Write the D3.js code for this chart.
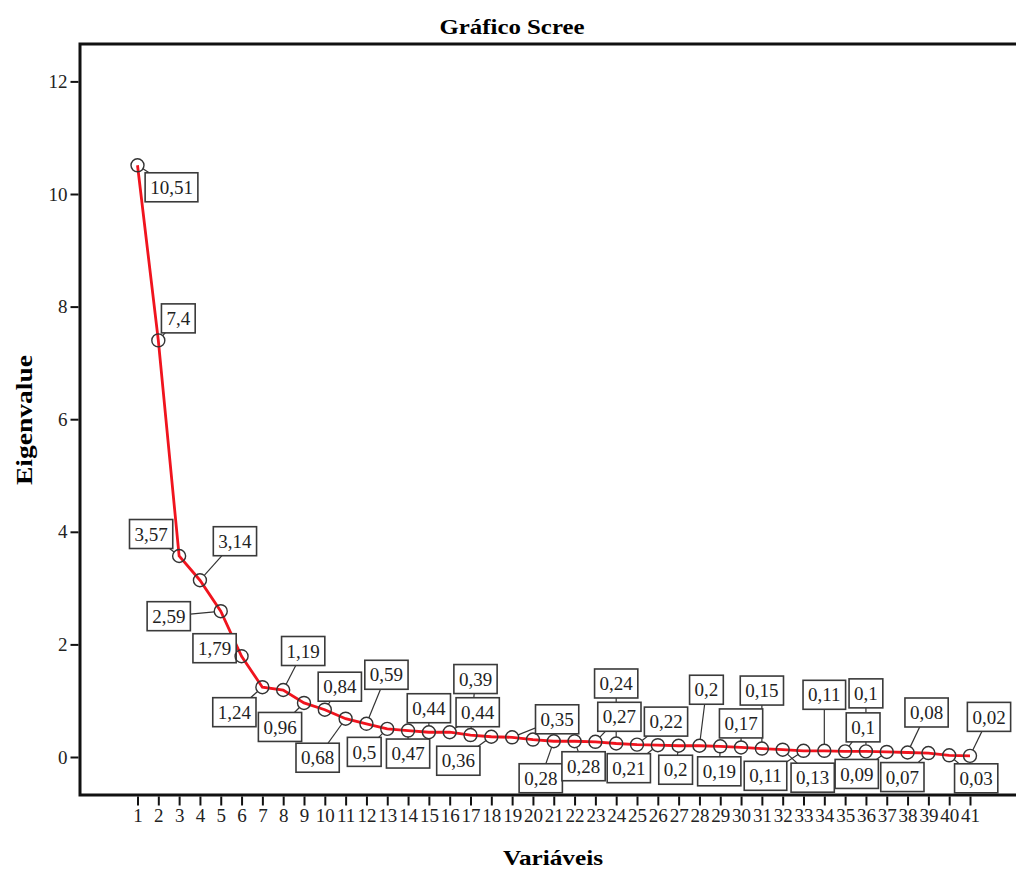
<!DOCTYPE html>
<html>
<head>
    <meta charset="utf-8">
    <title>Gráfico Scree</title>
    <script src="https://d3js.org/d3.v7.min.js"></script>
    <style>
        body { margin: 0; background: #fff; }
        svg { display: block; }
    </style>
</head>
<body>
    <svg id="chart"></svg>
    <script>
        // Data
        const variables = [1, 2, 3, 4, 5, 6, 7, 8, 9, 10, 11, 12, 13, 14, 15, 16, 17, 18, 19, 20,
            21, 22, 23, 24, 25, 26, 27, 28, 29, 30, 31, 32, 33, 34, 35, 36, 37, 38, 39, 40, 41];
        const eigenvalues = [10.51, 7.4, 3.57, 3.14, 2.59, 1.79, 1.24, 1.19, 0.96, 0.84,
            0.68, 0.59, 0.5, 0.47, 0.44, 0.44, 0.39, 0.36, 0.35, 0.31,
            0.28, 0.28, 0.27, 0.24, 0.22, 0.21, 0.2, 0.2, 0.19, 0.17,
            0.15, 0.13, 0.11, 0.11, 0.1, 0.1, 0.09, 0.08, 0.07, 0.03, 0.02];
        const yTicks = [0, 2, 4, 6, 8, 10, 12];

        // where each value box sits relative to its point (px), null = no box
        const labelOffsets = [
            [34, 22], [20, -22], [-28, -22], [35, -39], [-52, 5], [-27, -8], [-28, 25], [20, -39], [-24, 24], [15, -23],
            [-28, 39], [20, -49], [-23, 23], [0, 23], [0, -24], [28, -20], [5, -56], [-33, 24], [45, -18], null,
            [-13, 37], [9, 25], [24, -25], [0, -60], [29, -23], [-29, 23], [-3, 24], [7, -56], [-1, 25], [0, -24],
            [0, -58], [30, 28], [-38, 25], [0, -56], [18, -24], [0, -58], [-30, 22], [19, -40], [-26, 24], [27, 23],
            [19, -39]
        ];

        const width = 1016, height = 869;
        const frame = { left: 80, top: 44, bottom: 795 };
        const serif = "'Liberation Serif', 'DejaVu Serif', serif";

        const svg = d3.select("#chart").attr("width", width).attr("height", height);

        const x = d3.scaleLinear().domain([1, 41]).range([137.5, 970]);
        const y = d3.scaleLinear().domain([0, 12]).range([757, 81.4]);

        // frame (right side runs past the picture)
        svg.append("path")
            .attr("d", `M${width + 10},${frame.top}H${frame.left}V${frame.bottom}H${width + 10}`)
            .attr("fill", "none").attr("stroke", "#111").attr("stroke-width", 3);

        // y axis
        const yAxis = svg.append("g")
            .attr("transform", `translate(${frame.left - 1.5},0)`)
            .call(d3.axisLeft(y).tickValues(yTicks).tickSize(8).tickPadding(3));
        yAxis.select(".domain").remove();
        yAxis.selectAll("line").attr("stroke", "#111").attr("stroke-width", 2);
        yAxis.selectAll("text").attr("font-family", serif).attr("font-size", 19).attr("fill", "#222");

        // x axis
        const xAxis = svg.append("g")
            .attr("transform", `translate(0,${frame.bottom + 1.5})`)
            .call(d3.axisBottom(x).tickValues(variables).tickFormat(d3.format("d")).tickSize(9).tickPadding(3));
        xAxis.select(".domain").remove();
        xAxis.selectAll("line").attr("stroke", "#111").attr("stroke-width", 2);
        xAxis.selectAll("text").attr("font-family", serif).attr("font-size", 19).attr("fill", "#222");

        // titles
        svg.append("text").attr("x", 512).attr("y", 34).attr("text-anchor", "middle")
            .attr("font-family", serif).attr("font-weight", "bold").attr("font-size", 22)
            .attr("textLength", 145).attr("lengthAdjust", "spacingAndGlyphs")
            .text("Gráfico Scree");
        svg.append("text").attr("x", 553).attr("y", 865).attr("text-anchor", "middle")
            .attr("font-family", serif).attr("font-weight", "bold").attr("font-size", 22)
            .attr("textLength", 100).attr("lengthAdjust", "spacingAndGlyphs")
            .text("Variáveis");
        svg.append("text").attr("transform", "translate(32,420) rotate(-90)").attr("text-anchor", "middle")
            .attr("font-family", serif).attr("font-weight", "bold").attr("font-size", 23)
            .attr("textLength", 130).attr("lengthAdjust", "spacingAndGlyphs")
            .text("Eigenvalue");

        const points = variables.map((v, i) => ({
            v, value: eigenvalues[i], off: labelOffsets[i],
            px: x(v), py: y(eigenvalues[i])
        }));

        // red scree line
        const line = d3.line().x(d => d.px).y(d => d.py);
        svg.append("path").datum(points)
            .attr("d", line)
            .attr("fill", "none").attr("stroke", "#f0141e").attr("stroke-width", 2.8);

        const r = 6.5;
        const labelled = points.filter(d => d.off);

        // leader lines
        svg.append("g").selectAll("line")
            .data(labelled)
            .join("line")
            .attr("x1", d => {
                const dx = d.off[0], dy = d.off[1], len = Math.hypot(dx, dy) || 1;
                return d.px + r * dx / len;
            })
            .attr("y1", d => {
                const dx = d.off[0], dy = d.off[1], len = Math.hypot(dx, dy) || 1;
                return d.py + r * dy / len;
            })
            .attr("x2", d => d.px + d.off[0])
            .attr("y2", d => d.py + d.off[1])
            .attr("stroke", "#333").attr("stroke-width", 1.2);

        // value boxes
        const fmt = v => String(v).replace(".", ",");
        const boxes = svg.append("g").selectAll("g")
            .data(labelled)
            .join("g")
            .attr("transform", d => `translate(${d.px + d.off[0]},${d.py + d.off[1]})`);
        boxes.append("rect");
        boxes.append("text")
            .text(d => fmt(d.value))
            .attr("text-anchor", "middle").attr("dy", "0.35em")
            .attr("font-family", serif).attr("font-size", 19).attr("fill", "#222");
        boxes.each(function() {
            const g = d3.select(this);
            const w = g.select("text").node().getComputedTextLength() + 10;
            g.select("rect")
                .attr("x", -w / 2).attr("y", -14.5).attr("width", w).attr("height", 29)
                .attr("fill", "#fff").attr("stroke", "#3a3a3a").attr("stroke-width", 1.6);
        });

        // hollow markers
        svg.append("g").selectAll("circle")
            .data(points)
            .join("circle")
            .attr("cx", d => d.px).attr("cy", d => d.py).attr("r", r)
            .attr("fill", "none").attr("stroke", "#333").attr("stroke-width", 1.4);
    </script>
</body>
</html>
